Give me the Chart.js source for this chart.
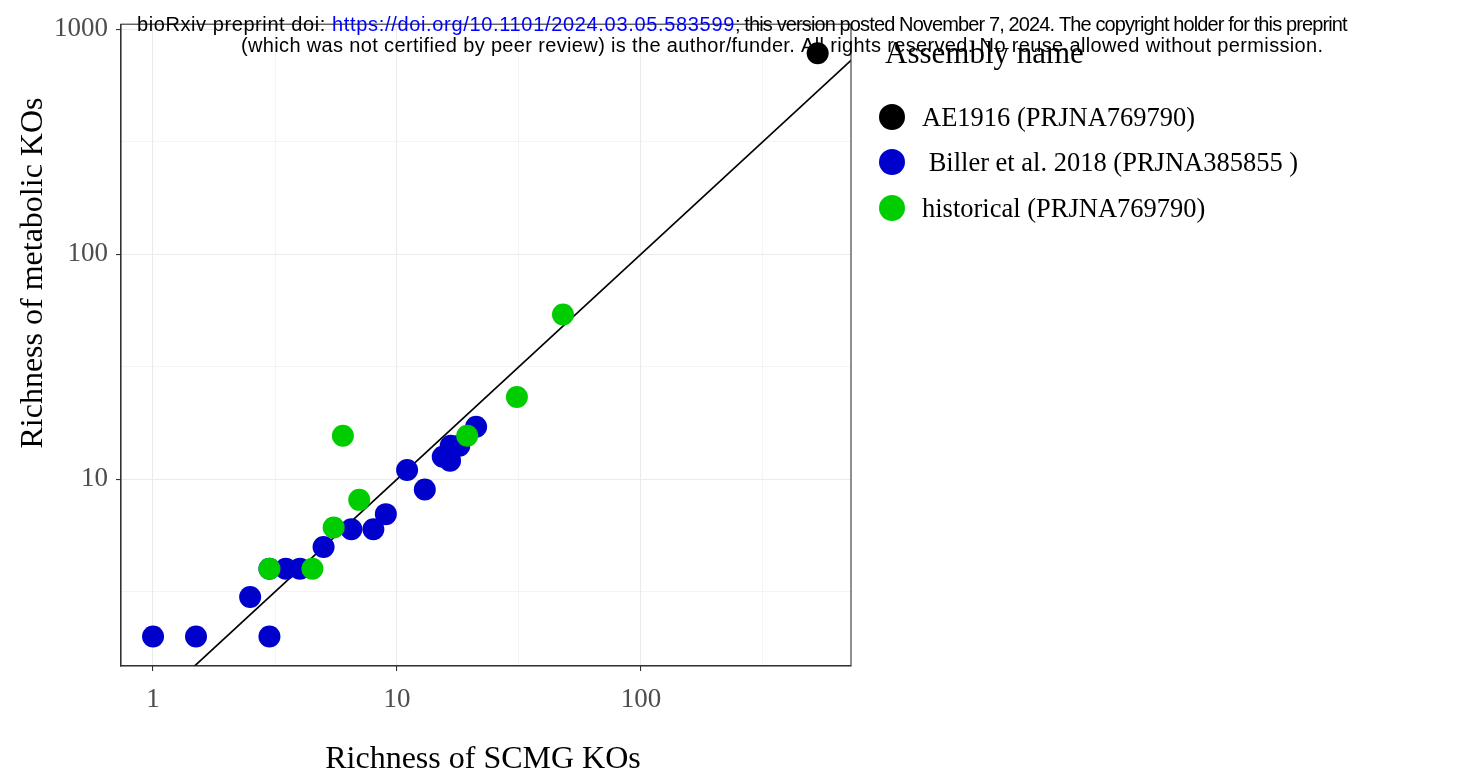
<!DOCTYPE html>
<html>
<head>
<meta charset="utf-8">
<title>Richness of SCMG KOs vs metabolic KOs</title>
<script src="https://cdn.jsdelivr.net/npm/chart.js@4.4.1/dist/chart.umd.min.js"></script>
<style>
  html, body { margin: 0; padding: 0; background: #ffffff; }
  #chart { display: block; }
</style>
</head>
<body>
<canvas id="chart" width="1475" height="782"></canvas>
<script>
// values (log-log axes)
const ae1916X = [530];
const ae1916Y = [782];

const billerX = [1, 1.5, 3, 2.5, 3, 3.5, 4, 5, 6.5, 8, 9, 11, 13, 15.4, 16.5, 16.6, 18, 21.1];
const billerY = [2, 2, 2, 3, 4, 4, 4, 5, 6, 6, 7, 11, 9, 12.6, 12.1, 14.1, 14.1, 17.1];

const historicalX = [3, 4.5, 5.5, 7, 6, 19.4, 31, 47.9];
const historicalY = [4, 4, 6.1, 8.1, 15.6, 15.6, 23.2, 54];

// y = x reference line
const lineX = [0.5, 2000];
const lineY = [0.5, 2000];

const seriesNames = ['AE1916 (PRJNA769790)', ' Biller et al. 2018 (PRJNA385855 )', 'historical (PRJNA769790)'];
const seriesColors = ['#000000', '#0000cd', '#00cd00'];

const xTicks = [1, 3.162, 10, 31.62, 100, 316.2];
const yTicks = [3.162, 10, 31.62, 100, 316.2, 1000];
const majorTicks = [1, 10, 100, 1000];

const toPoints = (xs, ys) => xs.map((x, i) => ({ x: x, y: ys[i] }));
const isMajor = (ctx) => ctx.tick && majorTicks.includes(ctx.tick.value);

Chart.defaults.font.family = "'Liberation Serif', 'Times New Roman', serif";

const gridOpts = {
  color: '#ebebeb',
  lineWidth: (ctx) => isMajor(ctx) ? 1.1 : 0.55,
  drawTicks: true,
  tickLength: 5,
  tickColor: (ctx) => isMajor(ctx) ? '#333333' : 'rgba(0,0,0,0)',
  tickWidth: (ctx) => isMajor(ctx) ? 1.1 : 0
};

// draws text so that it spans from x0 to x1, spreading/tightening the letters
function fitText(ctx, text, x0, x1, y) {
  ctx.letterSpacing = '0px';
  const natural = ctx.measureText(text).width;
  const spacing = (x1 - x0 - natural) / text.length;
  ctx.letterSpacing = spacing.toFixed(2) + 'px';
  ctx.fillText(text, x0, y);
  ctx.letterSpacing = '0px';
}

const extras = {
  id: 'extras',
  afterDatasetsDraw(chart) {
    const { ctx, chartArea: a } = chart;
    ctx.save();
    ctx.strokeStyle = '#333333';
    ctx.lineWidth = 1.1;
    ctx.strokeRect(a.left, a.top, a.right - a.left, a.bottom - a.top);
    ctx.restore();
  },
  afterDraw(chart) {
    const ctx = chart.ctx;
    ctx.save();

    // axis titles
    ctx.fillStyle = '#000000';
    ctx.font = "32px 'Liberation Serif'";
    ctx.textAlign = 'center';
    ctx.textBaseline = 'alphabetic';
    ctx.fillText('Richness of SCMG KOs', 483, 768);
    ctx.save();
    ctx.translate(42, 273);
    ctx.rotate(-Math.PI / 2);
    ctx.fillText('Richness of metabolic KOs', 0, 0);
    ctx.restore();

    // legend
    ctx.textAlign = 'left';
    ctx.font = "31px 'Liberation Serif'";
    ctx.fillText('Assembly name', 885, 63);
    ctx.font = "26.5px 'Liberation Serif'";
    const rows = [117, 162, 208];
    seriesNames.forEach((name, i) => {
      ctx.fillStyle = seriesColors[i];
      ctx.beginPath();
      ctx.arc(892, rows[i], 13, 0, Math.PI * 2);
      ctx.fill();
      ctx.fillStyle = '#000000';
      ctx.fillText(name, 922, rows[i] + 9);
    });

    // preprint header
    ctx.font = "20px 'Liberation Sans'";
    ctx.fillStyle = '#000000';
    fitText(ctx, 'bioRxiv preprint doi: ', 137, 332, 31);
    ctx.fillStyle = '#0000ff';
    fitText(ctx, 'https://doi.org/10.1101/2024.03.05.583599', 332, 735, 31);
    ctx.fillStyle = '#000000';
    fitText(ctx, '; this version posted November 7, 2024. The copyright holder for this preprint', 735, 1347, 31);
    fitText(ctx, '(which was not certified by peer review) is the author/funder. All rights reserved. No reuse allowed without permission.', 241, 1323, 52);
    ctx.restore();
  }
};

new Chart(document.getElementById('chart'), {
  type: 'scatter',
  data: {
    datasets: [
      {
        label: seriesNames[0],
        data: toPoints(ae1916X, ae1916Y),
        backgroundColor: seriesColors[0],
        pointRadius: 11, pointHoverRadius: 11, borderWidth: 0,
        order: 1
      },
      {
        label: seriesNames[1],
        data: toPoints(billerX, billerY),
        backgroundColor: seriesColors[1],
        pointRadius: 11, pointHoverRadius: 11, borderWidth: 0,
        order: 3
      },
      {
        label: seriesNames[2],
        data: toPoints(historicalX, historicalY),
        backgroundColor: seriesColors[2],
        pointRadius: 11, pointHoverRadius: 11, borderWidth: 0,
        order: 2
      },
      {
        type: 'line',
        label: 'y = x',
        data: toPoints(lineX, lineY),
        borderColor: '#000000',
        borderWidth: 1.7,
        pointRadius: 0,
        fill: false,
        order: 10
      }
    ]
  },
  options: {
    responsive: false,
    animation: false,
    layout: { padding: { top: 22, right: 624, left: 0, bottom: 0 } },
    plugins: { legend: { display: false }, tooltip: { enabled: false } },
    scales: {
      x: {
        type: 'logarithmic',
        bounds: 'data',
        min: 0.739,
        max: 726,
        afterBuildTicks: (scale) => { scale.ticks = xTicks.map(v => ({ value: v })); },
        afterFit: (scale) => { scale.height = 116; },
        grid: gridOpts,
        border: { display: true, color: '#333333', width: 1.1 },
        ticks: {
          autoSkip: false,
          maxRotation: 0,
          padding: 13,
          color: '#4d4d4d',
          font: { size: 27 },
          callback: (v) => majorTicks.includes(v) ? String(v) : ''
        }
      },
      y: {
        type: 'logarithmic',
        bounds: 'data',
        min: 1.48,
        max: 1052,
        afterBuildTicks: (scale) => { scale.ticks = yTicks.map(v => ({ value: v })); },
        afterFit: (scale) => { scale.width = 121; },
        grid: gridOpts,
        border: { display: true, color: '#333333', width: 1.1 },
        ticks: {
          autoSkip: false,
          padding: 8,
          color: '#4d4d4d',
          font: { size: 27 },
          callback: (v) => majorTicks.includes(v) ? String(v) : ''
        }
      }
    }
  },
  plugins: [extras]
});
</script>
</body>
</html>
